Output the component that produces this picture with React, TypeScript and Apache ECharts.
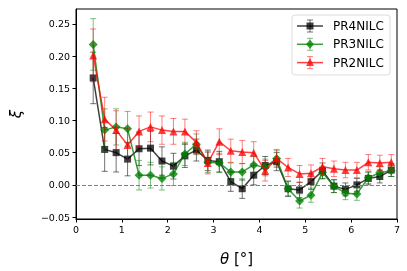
import React, { useEffect, useRef } from "react";
import * as echarts from "echarts";

const theta = [0.375, 0.625, 0.875, 1.125, 1.375, 1.625, 1.875, 2.125, 2.375, 2.625, 2.875, 3.125, 3.375, 3.625, 3.875, 4.125, 4.375, 4.625, 4.875, 5.125, 5.375, 5.625, 5.875, 6.125, 6.375, 6.625, 6.875];

const pr4 = [0.166, 0.055, 0.050, 0.040, 0.056, 0.057, 0.037, 0.029, 0.045, 0.054, 0.038, 0.036, 0.005, -0.006, 0.015, 0.030, 0.036, -0.006, -0.008, 0.005, 0.022, -0.002, -0.007, 0.000, 0.010, 0.013, 0.023];
const pr4Err = [0.040, 0.034, 0.030, 0.026, 0.026, 0.026, 0.022, 0.020, 0.018, 0.017, 0.016, 0.016, 0.015, 0.015, 0.015, 0.014, 0.014, 0.012, 0.012, 0.012, 0.012, 0.010, 0.010, 0.010, 0.010, 0.010, 0.010];

const pr3 = [0.218, 0.085, 0.090, 0.087, 0.015, 0.015, 0.010, 0.017, 0.048, 0.063, 0.035, 0.034, 0.020, 0.020, 0.031, 0.027, 0.041, -0.006, -0.025, -0.016, 0.019, -0.002, -0.013, -0.014, 0.011, 0.019, 0.022];
const pr3Err = [0.040, 0.033, 0.028, 0.027, 0.023, 0.020, 0.018, 0.018, 0.018, 0.016, 0.016, 0.015, 0.014, 0.013, 0.013, 0.013, 0.012, 0.011, 0.011, 0.011, 0.010, 0.010, 0.010, 0.010, 0.009, 0.009, 0.009];

const pr2 = [0.201, 0.102, 0.085, 0.062, 0.083, 0.090, 0.085, 0.083, 0.083, 0.066, 0.034, 0.067, 0.053, 0.051, 0.050, 0.022, 0.041, 0.027, 0.017, 0.018, 0.028, 0.025, 0.023, 0.023, 0.035, 0.034, 0.035];
const pr2Err = [0.041, 0.034, 0.030, 0.026, 0.024, 0.023, 0.022, 0.020, 0.019, 0.018, 0.017, 0.020, 0.018, 0.018, 0.017, 0.016, 0.014, 0.014, 0.013, 0.013, 0.013, 0.012, 0.012, 0.012, 0.012, 0.012, 0.012];

const seriesNames = ["PR4NILC", "PR3NILC", "PR2NILC"];
const yTicks = [-0.05, 0.0, 0.05, 0.1, 0.15, 0.2, 0.25];
const xTicks = [0, 1, 2, 3, 4, 5, 6, 7];

const FONT = "DejaVu Sans";

function errData(vals: number[], errs: number[]) {
  return theta.map((t, i) => [t, vals[i] - errs[i], vals[i] + errs[i]]);
}

function errSeries(vals: number[], errs: number[], color: string, z: number) {
  return {
    type: "custom",
    z,
    data: errData(vals, errs),
    encode: { x: 0, y: [1, 2] },
    renderItem: (_params: any, api: any) => {
      const x = api.value(0);
      const p1 = api.coord([x, api.value(1)]);
      const p2 = api.coord([x, api.value(2)]);
      const hw = 3;
      const style = { stroke: color, lineWidth: 1 };
      return {
        type: "group",
        children: [
          { type: "line", shape: { x1: p1[0], y1: p1[1], x2: p2[0], y2: p2[1] }, style },
          { type: "line", shape: { x1: p1[0] - hw, y1: p1[1], x2: p1[0] + hw, y2: p1[1] }, style },
          { type: "line", shape: { x1: p2[0] - hw, y1: p2[1], x2: p2[0] + hw, y2: p2[1] }, style },
        ],
      };
    },
  };
}

function lineSeries(name: string, vals: number[], color: string, symbol: string, size: number, z: number, extra: any = {}) {
  return {
    type: "line",
    name,
    z,
    data: theta.map((t, i) => [t, vals[i]]),
    symbol,
    symbolSize: size,
    showAllSymbol: true,
    lineStyle: { color, width: 1.5 },
    itemStyle: { color, borderWidth: 0 },
    ...extra,
  };
}

const C_BLACK = "rgba(0,0,0,0.75)";
const C_GREEN = "rgba(0,128,0,0.78)";
const C_RED = "rgba(255,0,0,0.75)";
const E_BLACK = "rgba(0,0,0,0.55)";
const E_GREEN = "rgba(0,128,0,0.5)";
const E_RED = "rgba(255,0,0,0.5)";

function legendItems(idx: number, y: number, color: string, ecolor: string, marker: string) {
  const x0 = 297, x1 = 323, cx = 310;
  const z = 110;
  const items: any[] = [
    { type: "line", z, shape: { x1: x0, y1: y, x2: x1, y2: y }, style: { stroke: color, lineWidth: 1.5 } },
    { type: "line", z, shape: { x1: cx, y1: y - 6, x2: cx, y2: y + 6 }, style: { stroke: ecolor, lineWidth: 1 } },
    { type: "line", z, shape: { x1: cx - 3, y1: y - 6, x2: cx + 3, y2: y - 6 }, style: { stroke: ecolor, lineWidth: 1 } },
    { type: "line", z, shape: { x1: cx - 3, y1: y + 6, x2: cx + 3, y2: y + 6 }, style: { stroke: ecolor, lineWidth: 1 } },
  ];
  if (marker === "square") {
    items.push({ type: "rect", z: z + 1, shape: { x: cx - 3.5, y: y - 3.5, width: 7, height: 7 }, style: { fill: color } });
  } else if (marker === "diamond") {
    items.push({ type: "polygon", z: z + 1, shape: { points: [[cx, y - 4.5], [cx + 4, y], [cx, y + 4.5], [cx - 4, y]] }, style: { fill: color } });
  } else {
    items.push({ type: "polygon", z: z + 1, shape: { points: [[cx, y - 4.5], [cx + 4, y + 3.5], [cx - 4, y + 3.5]] }, style: { fill: color } });
  }
  items.push({
    type: "text",
    z,
    x: 333,
    y,
    style: { text: seriesNames[idx], font: `12px '${FONT}'`, fill: "#000", verticalAlign: "middle", align: "left" },
  });
  return items;
}

export default function App() {
  const ref = useRef<HTMLDivElement>(null);
  useEffect(() => {
    if (!ref.current) return;
    const chart = echarts.init(ref.current, null, { renderer: "svg" });
    chart.setOption({
      animation: false,
      grid: { left: 73, right: 10, top: 9, bottom: 51, show: true, borderColor: "#000", borderWidth: 1, backgroundColor: "transparent" },
      xAxis: {
        type: "value",
        min: 0,
        max: 7,
        interval: 1,
        name: "{i|θ} [°]",
        nameLocation: "middle",
        nameGap: 32,
        nameTextStyle: { fontFamily: FONT, fontSize: 15, color: "#000", rich: { i: { fontFamily: FONT, fontSize: 15, fontStyle: "italic", color: "#000" } } },
        axisLine: { show: true, onZero: false, lineStyle: { color: "#000", width: 1 } },
        axisTick: { show: true, inside: false, length: 3.5, lineStyle: { color: "#000" }, customValues: xTicks },
        axisLabel: { fontFamily: FONT, fontSize: 9.5, color: "#000", margin: 5, customValues: xTicks },
        splitLine: { show: false },
      },
      yAxis: {
        type: "value",
        min: -0.053,
        max: 0.273,
        name: "ξ",
        nameLocation: "middle",
        nameGap: 53,
        nameTextStyle: { fontFamily: FONT, fontSize: 15, fontStyle: "italic", color: "#000" },
        axisLine: { show: true, onZero: false, lineStyle: { color: "#000", width: 1 } },
        axisTick: { show: true, inside: false, length: 3.5, lineStyle: { color: "#000" }, customValues: yTicks },
        axisLabel: {
          fontFamily: FONT,
          fontSize: 9.5,
          color: "#000",
          margin: 6,
          customValues: yTicks,
          formatter: (v: number) => v.toFixed(2).replace("-", "\u2212"),
        },
        splitLine: { show: false },
      },
      series: [
        errSeries(pr4, pr4Err, E_BLACK, 2),
        lineSeries(seriesNames[0], pr4, C_BLACK, "rect", 7, 3, {
          markLine: {
            silent: true,
            symbol: "none",
            label: { show: false },
            lineStyle: { color: "#808080", type: [4, 2], width: 1 },
            data: [{ yAxis: 0 }],
          },
        }),
        errSeries(pr3, pr3Err, E_GREEN, 4),
        lineSeries(seriesNames[1], pr3, C_GREEN, "diamond", 9, 5),
        errSeries(pr2, pr2Err, E_RED, 6),
        lineSeries(seriesNames[2], pr2, C_RED, "triangle", 8, 7),
      ],
      graphic: [
        {
          type: "rect",
          z: 100,
          shape: { x: 292, y: 15, width: 98, height: 60, r: 3 },
          style: { fill: "rgba(255,255,255,0.8)", stroke: "#dcdcdc", lineWidth: 1 },
        },
        ...legendItems(0, 26, C_BLACK, E_BLACK, "square"),
        ...legendItems(1, 44.3, C_GREEN, E_GREEN, "diamond"),
        ...legendItems(2, 62.6, C_RED, E_RED, "triangle"),
      ],
    });
    return () => chart.dispose();
  }, []);
  return <div ref={ref} style={{ position: "fixed", left: 0, top: 0, width: 407, height: 271 }} />;
}
